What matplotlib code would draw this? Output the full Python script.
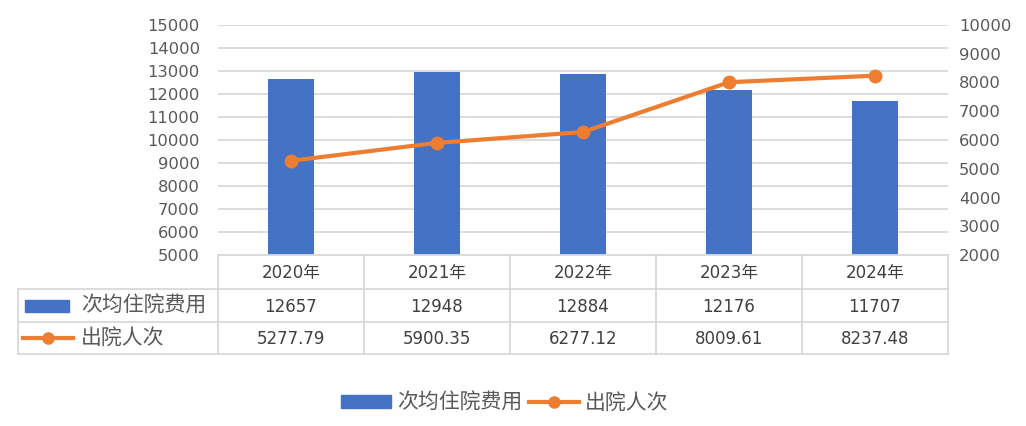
import numpy as np
import matplotlib.pyplot as plt
from matplotlib.lines import Line2D
from matplotlib.patches import Rectangle

plt.rcParams['font.family'] = ['DejaVu Sans', 'Noto Sans CJK SC']

years = ['2020年', '2021年', '2022年', '2023年', '2024年']
cost = [12657, 12948, 12884, 12176, 11707]
discharges = [5277.79, 5900.35, 6277.12, 8009.61, 8237.48]
cost_name = '次均住院费用'
disc_name = '出院人次'

blue = '#4472C4'
orange = '#ED7D31'
grey_txt = '#595959'
grid_c = '#D9D9D9'
cjk = ['Noto Sans CJK SC', 'DejaVu Sans']

W, H = 1026, 426
fig = plt.figure(figsize=(W / 100, H / 100), dpi=100)

# plot area in pixels
x0, x1 = 218, 948
ytop, ybot = 25, 255
ax = fig.add_axes([x0 / W, 1 - ybot / H, (x1 - x0) / W, (ybot - ytop) / H])
ax2 = ax.twinx()

x = np.arange(len(years))
ax.bar(x, cost, width=0.32, color=blue, zorder=2)
ax.set_ylim(5000, 15000)
ax.set_yticks(np.arange(5000, 15001, 1000))
ax.set_xlim(-0.5, len(years) - 0.5)
ax.set_xticks([])
ax.yaxis.grid(True, color=grid_c, lw=1.3, zorder=0)
ax.set_axisbelow(True)

ax2.plot(x, discharges, color=orange, lw=3, marker='o', ms=9, zorder=3)
ax2.set_ylim(2000, 10000)
ax2.set_yticks(np.arange(2000, 10001, 1000))

for a in (ax, ax2):
    for s in a.spines.values():
        s.set_visible(False)
    a.tick_params(length=0, labelsize=11.8, colors=grey_txt)
ax.tick_params(pad=13)
ax2.tick_params(pad=8)

# data table drawn on an overlay in pixel coordinates
ov = fig.add_axes([0, 0, 1, 1])
ov.set_xlim(0, W)
ov.set_ylim(H, 0)
ov.axis('off')

rows = [255, 289, 322, 354]
left = 18
colw = (x1 - x0) / len(years)
lc = dict(color=grid_c, lw=1.3)
ov.plot([x0, x1], [rows[0], rows[0]], **lc)
for r in rows[1:]:
    ov.plot([left, x1], [r, r], **lc)
for i in range(len(years) + 1):
    ov.plot([x0 + i * colw] * 2, [rows[0], rows[3]], **lc)
ov.plot([left, left], [rows[1], rows[3]], **lc)

tc = '#404040'
for i, y in enumerate(years):
    cx = x0 + (i + 0.5) * colw
    ov.text(cx, (rows[0] + rows[1]) / 2 + 1, y, ha='center', va='center', fontsize=12, color=tc)
    ov.text(cx, (rows[1] + rows[2]) / 2 + 1, f'{cost[i]}', ha='center', va='center', fontsize=12, color=tc)
    ov.text(cx, (rows[2] + rows[3]) / 2 + 1, f'{discharges[i]:.2f}', ha='center', va='center', fontsize=12, color=tc)

# legend keys inside the table
ym = (rows[1] + rows[2]) / 2
ov.add_patch(Rectangle((25, ym - 6), 44, 12, color=blue))
ov.text(81, ym, cost_name, ha='left', va='center', fontsize=15, color=grey_txt, family=cjk)
ym = (rows[2] + rows[3]) / 2
ov.plot([23, 73], [ym, ym], color=orange, lw=3)
ov.plot([48], [ym], 'o', color=orange, ms=8)
ov.text(81, ym, disc_name, ha='left', va='center', fontsize=15, color=grey_txt, family=cjk)

handles = [Rectangle((0, 0), 1, 1, color=blue),
           Line2D([], [], color=orange, lw=3, marker='o', ms=8)]
fig.legend(handles, [cost_name, disc_name], loc='center', bbox_to_anchor=(505 / W, 1 - 403 / H),
           ncol=2, frameon=False, prop={'family': cjk, 'size': 15}, labelcolor=grey_txt,
           handlelength=2.4, handleheight=0.6, handletextpad=0.3, columnspacing=0.3)

fig.savefig('out.png', dpi=100)
